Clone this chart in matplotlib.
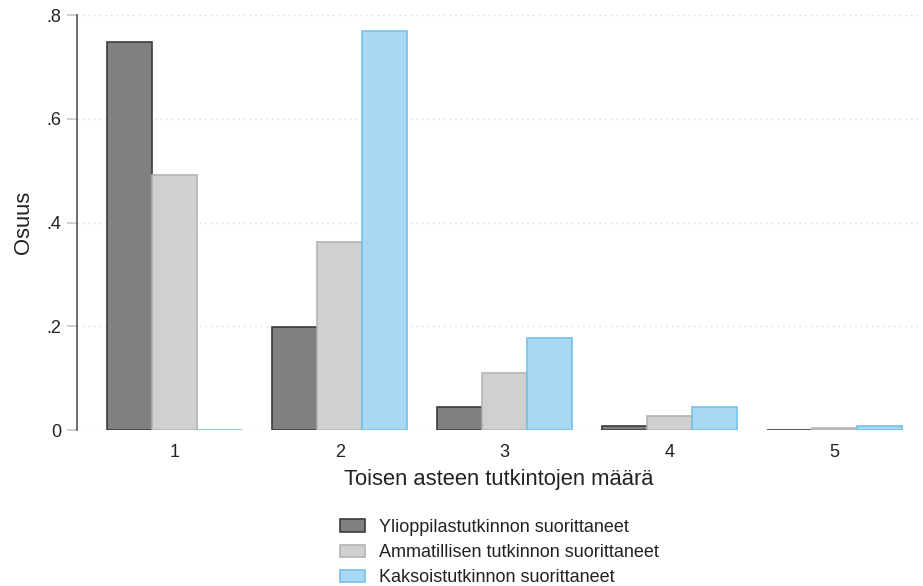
import numpy as np
import matplotlib.pyplot as plt
from matplotlib.patches import Patch

plt.rcParams['font.family'] = ['Liberation Sans', 'DejaVu Sans']

# data
categories = [1, 2, 3, 4, 5]
series_names = ['Ylioppilastutkinnon suorittaneet',
                'Ammatillisen tutkinnon suorittaneet',
                'Kaksoistutkinnon suorittaneet']
ylioppilas = [0.748, 0.199, 0.044, 0.008, 0.001]
ammatillinen = [0.492, 0.362, 0.110, 0.028, 0.004]
kaksois = [0.0, 0.769, 0.177, 0.044, 0.007]
yticks = [0, 0.2, 0.4, 0.6, 0.8]
ytick_labels = ['0', '.2', '.4', '.6', '.8']

fills = ['#808080', '#d0d0d0', '#a9d8f2']
edges = ['#3c3c3c', '#b4b4b4', '#72c0ea']

fig = plt.figure(figsize=(9.23, 5.86), dpi=100)
ax = fig.add_axes([0.0834, 0.266, 0.9133, 0.708])

x = np.array(categories, dtype=float)
w = 0.273
for i, vals in enumerate([ylioppilas, ammatillinen, kaksois]):
    ax.bar(x + (i - 1) * w, vals, width=w, color=fills[i],
           edgecolor=edges[i], linewidth=1.2, zorder=3)

ax.set_xlim(0.406, 5.52)
ax.set_ylim(0, 0.8)
ax.set_yticks(yticks)
ax.set_yticklabels(ytick_labels)
ax.set_xticks(categories)
ax.grid(axis='y', color='#dcdcdc', linestyle=(0, (1, 3)), linewidth=1, zorder=0)

for s in ['top', 'right', 'bottom']:
    ax.spines[s].set_visible(False)
ax.spines['left'].set_color('#555555')
ax.spines['left'].set_linewidth(1.2)
ax.tick_params(axis='y', length=7, color='#c8c8c8', width=1.2, labelsize=13,
               pad=4, labelcolor='#222222')
ax.tick_params(axis='x', length=0, labelsize=13, pad=10, labelcolor='#222222')

ax.set_xlabel('Toisen asteen tutkintojen määrä', fontsize=15.8, labelpad=6,
              color='#222222')
ax.set_ylabel('Osuus', fontsize=15.8, labelpad=9, color='#222222')

handles = [Patch(facecolor=fills[i], edgecolor=edges[i], linewidth=1.2)
           for i in range(3)]
fig.legend(handles, series_names, loc='upper center', bbox_to_anchor=(0.541, 0.142),
           frameon=False, fontsize=13, ncol=1, handlelength=1.4, handleheight=0.7,
           labelspacing=0.45, handletextpad=0.8, labelcolor='#222222')

fig.savefig('out.png', dpi=100)
